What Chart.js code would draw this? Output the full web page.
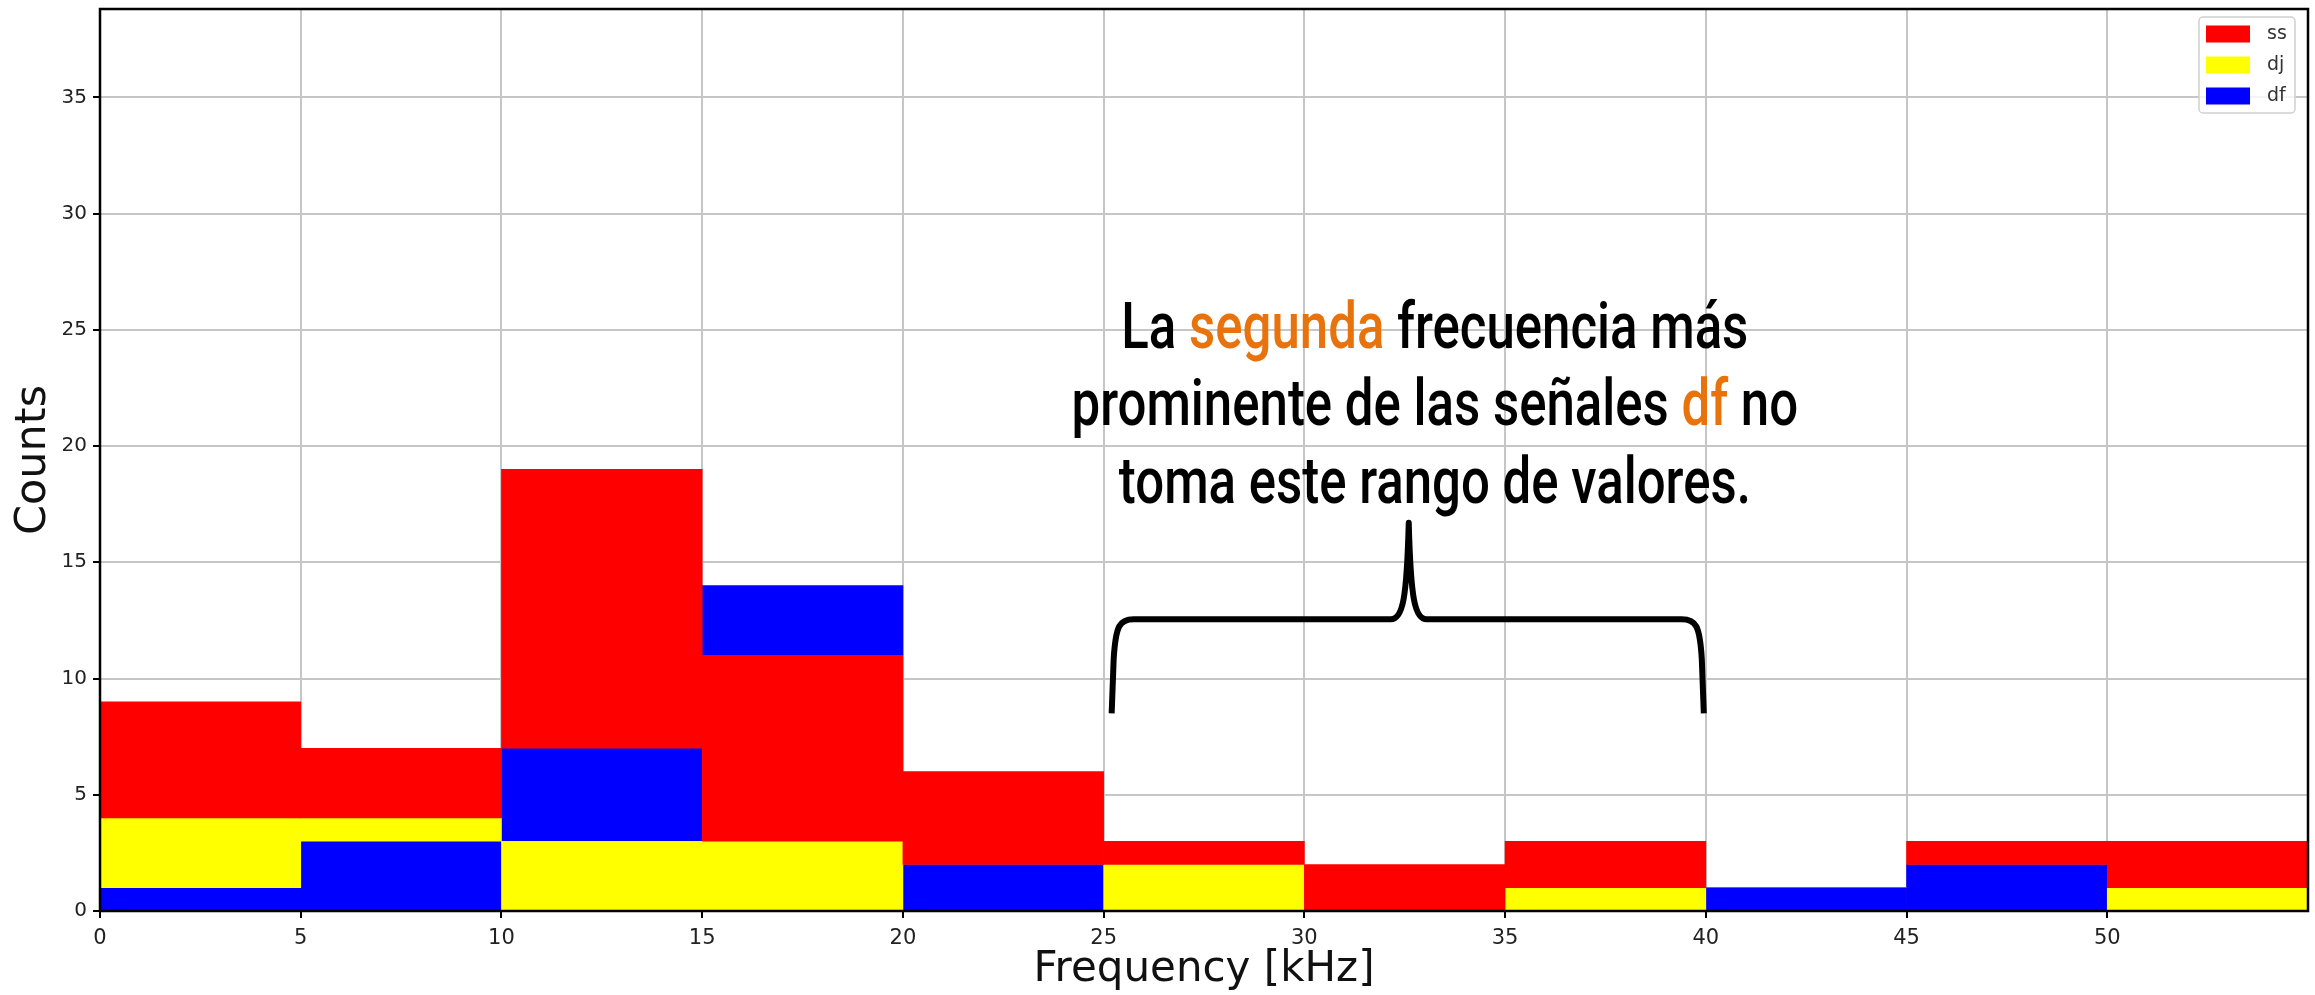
<!DOCTYPE html>
<html>
<head>
<meta charset="utf-8">
<script src="https://cdn.jsdelivr.net/npm/chart.js@4.4.1/dist/chart.umd.min.js"></script>
<style>
  body { margin: 0; background: #fff; }
  canvas { display: block; }
</style>
</head>
<body>
<canvas id="hist" width="2315" height="995"></canvas>
<script>
var binEdges = [0, 5, 10, 15, 20, 25, 30, 35, 40, 45, 50, 55];
var ssCounts = [9, 7, 19, 11, 6, 3, 2, 3, 1, 3, 3];
var djCounts = [4, 4, 3, 3, 0, 2, 0, 1, 0, 0, 1];
var dfCounts = [1, 3, 7, 14, 2, 0, 0, 0, 1, 2, 0];
var seriesNames = ['ss', 'dj', 'df'];
var seriesColors = ['#ff0000', '#ffff00', '#0000ff'];
var xTicks = [0, 5, 10, 15, 20, 25, 30, 35, 40, 45, 50];
var yTicks = [0, 5, 10, 15, 20, 25, 30, 35];

var allCounts = [ssCounts, djCounts, dfCounts];
var frontOrder = [2, 1, 0]; // df in front, then dj, then ss

// bars overlap: each series only shows the part above the next lower one
function visibleParts(k) {
    return ssCounts.map(function (_, i) {
        var order = frontOrder.slice().sort(function (a, b) { return allCounts[a][i] - allCounts[b][i]; });
        var pos = order.indexOf(k);
        var lo = pos == 0 ? 0 : allCounts[order[pos - 1]][i];
        return { x: (binEdges[i] + binEdges[i + 1]) / 2, y: [lo, allCounts[k][i]] };
    });
}

var datasets = seriesNames.map(function (name, k) {
    return {
        label: name,
        data: visibleParts(k),
        backgroundColor: seriesColors[k],
        borderWidth: 0,
        grouped: false,
        barPercentage: 1,
        categoryPercentage: 1
    };
});

var framePlugin = {
    id: 'frame',
    afterDraw: function (chart) {
        var ctx = chart.ctx, a = chart.chartArea;
        ctx.save();
        ctx.strokeStyle = '#000';
        ctx.lineWidth = 2.5;
        ctx.strokeRect(a.left, a.top, a.right - a.left, a.bottom - a.top);
        ctx.restore();
    }
};

var legendPlugin = {
    id: 'boxLegend',
    afterDraw: function (chart) {
        var ctx = chart.ctx, a = chart.chartArea;
        var x0 = a.right - 109, y0 = a.top + 8, w = 96, h = 96;
        ctx.save();
        ctx.fillStyle = 'rgba(255,255,255,0.8)';
        ctx.strokeStyle = '#d0d0d0';
        ctx.lineWidth = 1.5;
        ctx.beginPath();
        ctx.roundRect(x0, y0, w, h, 4);
        ctx.fill();
        ctx.stroke();
        ctx.font = '19px "DejaVu Sans"';
        ctx.textBaseline = 'middle';
        chart.data.datasets.forEach(function (ds, i) {
            var cy = y0 + 17 + i * 31;
            ctx.fillStyle = ds.backgroundColor;
            ctx.fillRect(x0 + 7, cy - 8.5, 44, 17);
            ctx.fillStyle = '#333';
            ctx.fillText(ds.label, x0 + 68, cy);
        });
        ctx.restore();
    }
};

var notePlugin = {
    id: 'note',
    afterDraw: function (chart) {
        var ctx = chart.ctx, xs = chart.scales.x, ys = chart.scales.y;
        var lines = [
            [['La ', '#000'], ['segunda', '#e8720c'], [' frecuencia más', '#000']],
            [['prominente de las señales ', '#000'], ['df', '#e8720c'], [' no', '#000']],
            [['toma este rango de valores.', '#000']]
        ];
        var baseY = [24.2, 20.9, 17.57];
        var cx = xs.getPixelForValue(33.25);
        ctx.save();
        ctx.font = '500 65px Roboto, "DejaVu Sans", sans-serif';
        ctx.textBaseline = 'alphabetic';
        // squeeze horizontally, the original font is a condensed one
        var first = lines[0].map(function (p) { return p[0]; }).join('');
        var sx = 627 / ctx.measureText(first).width;
        lines.forEach(function (parts, i) {
            var full = parts.map(function (p) { return p[0]; }).join('');
            var x = -ctx.measureText(full).width / 2;
            var y = ys.getPixelForValue(baseY[i]);
            ctx.save();
            ctx.translate(cx, y);
            ctx.scale(sx, 1);
            parts.forEach(function (p) {
                ctx.fillStyle = p[1];
                ctx.fillText(p[0], x, 0);
                x += ctx.measureText(p[0]).width;
            });
            ctx.restore();
        });

        // curly brace over 25-40 kHz
        var L = xs.getPixelForValue(25.2), M = xs.getPixelForValue(32.6), R = xs.getPixelForValue(39.95);
        var bot = ys.getPixelForValue(8.5), bar = ys.getPixelForValue(12.55), peak = ys.getPixelForValue(16.7);
        ctx.strokeStyle = '#000';
        ctx.lineWidth = 6;
        ctx.lineJoin = 'round';
        ctx.lineCap = 'butt';
        ctx.beginPath();
        ctx.moveTo(L, bot);
        ctx.lineTo(L + 2, bar + 40);
        ctx.bezierCurveTo(L + 4, bar + 6, L + 8, bar, L + 22, bar);
        ctx.lineTo(M - 18, bar);
        ctx.bezierCurveTo(M - 6, bar, M - 2, bar - 20, M, peak);
        ctx.bezierCurveTo(M + 2, bar - 20, M + 6, bar, M + 18, bar);
        ctx.lineTo(R - 22, bar);
        ctx.bezierCurveTo(R - 8, bar, R - 4, bar + 6, R - 2, bar + 40);
        ctx.lineTo(R, bot);
        ctx.stroke();
        ctx.restore();
    }
};

function keepTicks(list) {
    return function (scale) {
        scale.ticks = list.map(function (v) { return { value: v }; });
    };
}

function drawHist() {
    var ctx = document.querySelector('#hist').getContext('2d');
    var myChart = new Chart(ctx, {
        type: 'bar',
        data: { datasets: datasets },
        options: {
            responsive: false,
            animation: false,
            layout: { padding: { top: 9, right: 7, left: 0, bottom: 0 } },
            plugins: {
                legend: { display: false },
                tooltip: { enabled: false }
            },
            scales: {
                x: {
                    type: 'linear',
                    min: 0,
                    max: 55,
                    offset: false,
                    z: 1,
                    afterBuildTicks: keepTicks(xTicks),
                    afterFit: function (s) { s.height = 84; s.paddingLeft = 0; s.paddingRight = 0; },
                    grid: { offset: false, color: '#c6c6c6', lineWidth: 2, tickLength: 7, tickColor: '#000', tickWidth: 2 },
                    border: { display: false },
                    ticks: { padding: 8, color: '#222', font: { family: 'DejaVu Sans', size: 21 }, maxRotation: 0 },
                    title: { display: true, text: 'Frequency [kHz]', color: '#111', padding: 0, font: { family: 'DejaVu Sans', size: 42, lineHeight: 1.2 } }
                },
                y: {
                    type: 'linear',
                    min: 0,
                    max: 38.8,
                    z: 1,
                    afterBuildTicks: keepTicks(yTicks),
                    afterFit: function (s) { s.width = 100; s.paddingTop = 0; s.paddingBottom = 0; },
                    grid: { color: '#c6c6c6', lineWidth: 2, tickLength: 7, tickColor: '#000', tickWidth: 2 },
                    border: { display: false },
                    ticks: { padding: 6, color: '#222', font: { family: 'DejaVu Sans', size: 20 } },
                    title: { display: true, text: 'Counts', color: '#111', padding: { top: 8 }, font: { family: 'DejaVu Sans', size: 43, lineHeight: 1.2 } }
                }
            }
        },
        plugins: [framePlugin, legendPlugin, notePlugin]
    });
}

drawHist();
</script>
</body>
</html>
